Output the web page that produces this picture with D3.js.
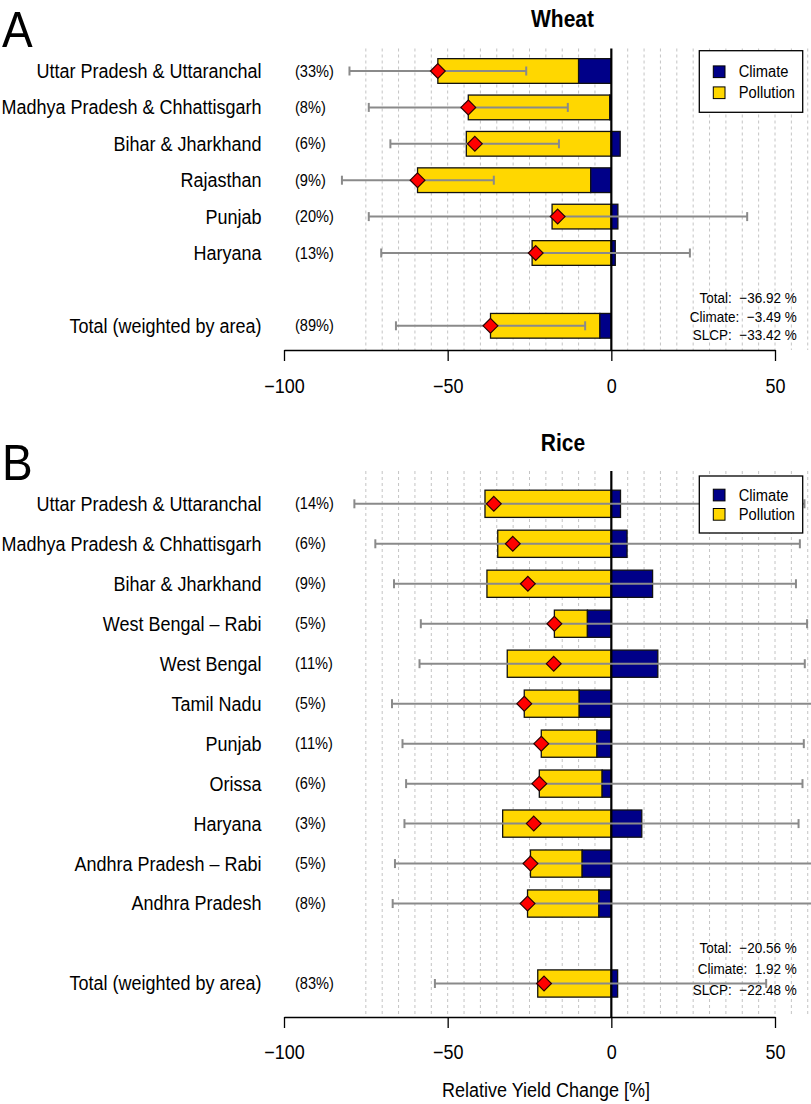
<!DOCTYPE html>
<html>
<head>
<meta charset="utf-8">
<script src="https://cdn.jsdelivr.net/npm/d3@7"></script>
<style>
  html, body { margin: 0; padding: 0; background: #fff; }
  svg { display: block; font-family: "Liberation Sans", Arial, Helvetica, sans-serif; }
  text { white-space: pre; }
</style>
</head>
<body>
<svg id="chart" width="811" height="1104"></svg>
<script>
// ---------------- DATA ----------------
// Panel A: Wheat
const wheatRegions = ["Uttar Pradesh & Uttaranchal", "Madhya Pradesh & Chhattisgarh", "Bihar & Jharkhand", "Rajasthan", "Punjab", "Haryana"];
const wheatShares = ["(33%)", "(8%)", "(6%)", "(9%)", "(20%)", "(13%)"];
const wheatClimate = [-10.0, -0.5, 2.7, -6.3, 2.0, 1.2];
const wheatPollution = [-43.0, -43.2, -44.3, -52.9, -18.1, -24.2];
const wheatTotal = [-53.0, -43.7, -41.7, -59.2, -16.4, -23.1];
const wheatErrLow = [-80.0, -74.1, -67.5, -82.3, -74.1, -70.3];
const wheatErrHigh = [-26.0, -13.3, -16.0, -35.9, 41.5, 24.0];
const wheatSum = { label: "Total (weighted by area)", share: "(89%)", climate: -3.49, pollution: -33.42, total: -36.92, errLow: -65.8, errHigh: -8.0 };

// Panel B: Rice
const riceRegions = ["Uttar Pradesh & Uttaranchal", "Madhya Pradesh & Chhattisgarh", "Bihar & Jharkhand", "West Bengal \u2013 Rabi", "West Bengal", "Tamil Nadu", "Punjab", "Orissa", "Haryana", "Andhra Pradesh \u2013 Rabi", "Andhra Pradesh"];
const riceShares = ["(14%)", "(6%)", "(9%)", "(5%)", "(11%)", "(5%)", "(11%)", "(6%)", "(3%)", "(5%)", "(8%)"];
const riceClimate = [2.8, 4.8, 12.6, -7.3, 14.2, -9.8, -4.4, -2.8, 9.3, -8.9, -3.8];
const ricePollution = [-38.6, -34.7, -38.0, -10.1, -31.8, -16.8, -17.0, -19.2, -33.2, -15.8, -21.8];
const riceTotal = [-35.9, -30.1, -25.5, -17.4, -17.6, -26.6, -21.4, -22.0, -23.7, -24.7, -25.6];
const riceErrLow = [-78.5, -72.1, -66.4, -58.2, -58.6, -67.0, -63.8, -62.7, -63.2, -66.1, -66.8];
const riceErrHigh = [59.0, 57.6, 56.4, 59.8, 59.1, 66.0, 58.8, 58.4, 57.2, 66.0, 66.0];
const riceSum = { label: "Total (weighted by area)", share: "(83%)", climate: 1.92, pollution: -22.48, total: -20.56, errLow: -53.9, errHigh: 47.3 };

const xTicks = [-100, -50, 0, 50];
const gridValues = d3.range(-75, 61, 5).filter(v => v !== 0);
const legendLabels = ["Climate", "Pollution"];
const xAxisTitle = "Relative Yield Change [%]";

// ---------------- STYLE ----------------
const COL_CLIMATE = "#000088";
const COL_POLL = "#FFD700";
const COL_ERR = "#8a8a8a";
const COL_DIAMOND = "#FF0000";
const SY = 1.1; // vertical text stretch of the original

const svg = d3.select("#chart");
svg.append("rect").attr("width", 811).attr("height", 1104).attr("fill", "#fff");

const x = d3.scaleLinear().domain([-100, 50]).range([284, 775]);
const fmt = d3.format(".2f");

function addText(g, tx, ty, str, opts) {
  const t = g.append("text")
    .attr("transform", `translate(${tx},${ty}) scale(1,${SY})`)
    .attr("dy", opts.dy || "0.35em")
    .attr("text-anchor", opts.anchor || "start")
    .attr("font-size", opts.size)
    .attr("fill", "#000")
    .text(str);
  if (opts.bold) t.attr("font-weight", "bold");
  return t;
}

function buildRows(regions, shares, climate, pollution, total, lo, hi, sum) {
  const rows = regions.map((r, i) => ({
    label: r, share: shares[i], climate: climate[i], pollution: pollution[i],
    total: total[i], errLow: lo[i], errHigh: hi[i], idx: i
  }));
  rows.push(Object.assign({ idx: regions.length + 1 }, sum));
  return rows;
}

function drawPanel(cfg) {
  const g = svg.append("g");
  const n = cfg.rows.length; // last row is total
  const lastIdx = cfg.rows[n - 1].idx;
  const y = d3.scaleLinear().domain([0, lastIdx]).range([cfg.firstY, cfg.lastY]);
  const bh = cfg.barH;

  // letter + title
  addText(g, 2, cfg.letterBase, cfg.letter, { size: 46, dy: "0" });
  addText(g, cfg.titleX, cfg.titleY, cfg.title, { size: 21, bold: true, anchor: "middle" });

  // grid
  g.append("g").selectAll("line").data(gridValues).join("line")
    .attr("x1", d => x(d)).attr("x2", d => x(d))
    .attr("y1", cfg.plotTop).attr("y2", cfg.axisY)
    .attr("stroke", "#c4c4c4").attr("stroke-width", 1)
    .attr("stroke-dasharray", "3,3");

  // bars
  const segs = [];
  cfg.rows.forEach(d => {
    const c = d.climate, p = d.pollution;
    const start = (Math.sign(p) === Math.sign(c)) ? c : 0;
    segs.push({ row: d, a: start, b: start + p, col: COL_POLL });
    segs.push({ row: d, a: 0, b: c, col: COL_CLIMATE });
  });
  g.append("g").selectAll("rect").data(segs).join("rect")
    .attr("x", s => x(Math.min(s.a, s.b)))
    .attr("width", s => Math.abs(x(s.b) - x(s.a)))
    .attr("y", s => y(s.row.idx) - bh / 2)
    .attr("height", bh)
    .attr("fill", s => s.col)
    .attr("stroke", "#111").attr("stroke-width", 1.3);

  // zero line
  g.append("line")
    .attr("x1", x(0)).attr("x2", x(0))
    .attr("y1", cfg.plotTop).attr("y2", cfg.axisY)
    .attr("stroke", "#000").attr("stroke-width", 2.2);

  // error bars
  const eg = g.append("g").attr("stroke", COL_ERR).attr("stroke-width", 2).attr("fill", "none");
  eg.selectAll("line.h").data(cfg.rows).join("line").attr("class", "h")
    .attr("x1", d => x(d.errLow)).attr("x2", d => x(d.errHigh))
    .attr("y1", d => y(d.idx)).attr("y2", d => y(d.idx));
  const caps = [];
  cfg.rows.forEach(d => { caps.push({ v: d.errLow, idx: d.idx }); caps.push({ v: d.errHigh, idx: d.idx }); });
  eg.selectAll("line.c").data(caps).join("line").attr("class", "c")
    .attr("x1", d => x(d.v)).attr("x2", d => x(d.v))
    .attr("y1", d => y(d.idx) - 4.5).attr("y2", d => y(d.idx) + 4.5);

  // diamonds
  const r = 7.4;
  g.append("g").selectAll("path").data(cfg.rows).join("path")
    .attr("d", d => {
      const cx = x(d.total), cy = y(d.idx);
      return `M${cx},${cy - r}L${cx + r},${cy}L${cx},${cy + r}L${cx - r},${cy}Z`;
    })
    .attr("fill", COL_DIAMOND).attr("stroke", "#2a0000").attr("stroke-width", 1.2);

  // row labels
  cfg.rows.forEach(d => {
    addText(g, 261.5, y(d.idx), d.label, { size: 18, anchor: "end" });
    addText(g, 295, y(d.idx), d.share, { size: 14.6 });
  });

  // x axis
  const ax = g.append("g").attr("transform", `translate(0,${cfg.axisY})`)
    .call(d3.axisBottom(x).tickValues(xTicks).tickSize(11).tickSizeOuter(0));
  ax.select(".domain").attr("stroke", "#000").attr("stroke-width", 1.3);
  ax.selectAll(".tick line").attr("stroke", "#000").attr("stroke-width", 1.3);
  ax.selectAll(".tick text")
    .attr("y", 0).attr("dy", null)
    .attr("transform", `translate(0,${cfg.tickLabelOff}) scale(1,${SY})`)
    .attr("dominant-baseline", "central")
    .attr("font-size", 18).attr("font-family", null).attr("fill", "#000");

  // summary annotation
  const s = cfg.rows[n - 1];
  const ann = [
    "Total:  " + fmt(s.total) + " %",
    "Climate:  " + fmt(s.climate) + " %",
    "SLCP:  " + fmt(s.pollution) + " %"
  ];
  ann.forEach((t, i) => addText(g, 796.7, cfg.annY[i], t, { size: 13.5, anchor: "end" }));

  // legend
  const L = cfg.legend;
  g.append("rect").attr("x", 699.3).attr("y", L.top).attr("width", 103.4).attr("height", L.h)
    .attr("fill", "#fff").attr("stroke", "#000").attr("stroke-width", 1.3);
  legendLabels.forEach((lab, i) => {
    const cy = L.rows[i];
    g.append("rect").attr("x", 713.3).attr("y", cy - 5.8).attr("width", 11.7).attr("height", 11.7)
      .attr("fill", i === 0 ? COL_CLIMATE : COL_POLL).attr("stroke", "#000").attr("stroke-width", 1);
    addText(g, 738.7, cy, lab, { size: 14.7 });
  });
}

drawPanel({
  letter: "A", letterBase: 46.5, title: "Wheat", titleX: 562.5, titleY: 18.5,
  rows: buildRows(wheatRegions, wheatShares, wheatClimate, wheatPollution, wheatTotal, wheatErrLow, wheatErrHigh, wheatSum),
  firstY: 71, lastY: 325.8, barH: 24.7, plotTop: 48.5, axisY: 350, tickLabelOff: 36.5,
  annY: [298, 316.5, 335],
  legend: { top: 50.7, h: 61.6, rows: [71.7, 92.7] }
});

drawPanel({
  letter: "B", letterBase: 480, title: "Rice", titleX: 563, titleY: 443.3,
  rows: buildRows(riceRegions, riceShares, riceClimate, ricePollution, riceTotal, riceErrLow, riceErrHigh, riceSum),
  firstY: 503.8, lastY: 983.5, barH: 27.2, plotTop: 471, axisY: 1017, tickLabelOff: 35,
  annY: [948.3, 969.3, 990],
  legend: { top: 476, h: 57, rows: [495, 514.3] }
});

addText(svg, 546, 1090, xAxisTitle, { size: 18, anchor: "middle" });
</script>
</body>
</html>
